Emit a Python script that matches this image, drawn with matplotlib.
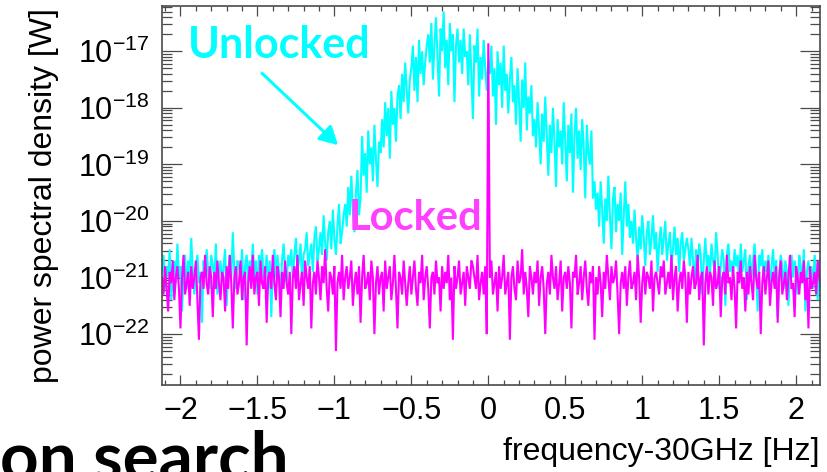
import numpy as np
import matplotlib
matplotlib.use("Agg")
import matplotlib.pyplot as plt
from matplotlib.ticker import LogLocator, FixedLocator, MultipleLocator, NullFormatter

plt.rcParams['font.family'] = ['Liberation Sans', 'DejaVu Sans']
plt.rcParams['mathtext.fontset'] = 'custom'
plt.rcParams['mathtext.rm'] = 'Liberation Sans'
plt.rcParams['mathtext.it'] = 'Liberation Sans:italic'
plt.rcParams['mathtext.bf'] = 'Liberation Sans:bold'

# frequency bins (Hz, offset from 30 GHz)
F_START = -2.12
F_STEP = 0.01

# log10 of power spectral density [W]
unlocked_log10 = [
    -20.9, -20.6, -21.2, -20.8, -21.0, -20.5, -21.4, -20.9, -20.7, -21.1,
    -20.4, -21.0, -20.8, -21.6, -20.9, -20.6, -21.2, -20.7, -21.0, -20.3,
    -20.9, -21.3, -20.8, -20.6, -21.1, -20.9, -21.8, -20.7, -21.0, -20.5,
    -20.9, -21.2, -20.6, -20.8, -21.0, -20.4, -21.3, -20.9, -20.7, -21.1,
    -20.8, -20.5, -21.5, -20.9, -20.6, -21.0, -20.2, -20.9, -21.2, -20.7,
    -20.8, -21.0, -20.5, -21.4, -20.8, -20.6, -21.1, -20.7, -20.9, -20.4,
    -21.0, -20.7, -21.3, -20.6, -20.8, -20.5, -21.0, -20.9, -20.6, -21.2,
    -20.7, -21.7, -20.8, -20.5, -21.0, -20.6, -20.9, -21.3, -20.7, -20.4,
    -20.9, -21.1, -20.6,
    -20.8, -20.5, -21.0, -20.6, -20.3, -20.9, -20.7, -20.4, -21.1, -20.6,
    -20.5, -20.2, -20.8, -20.6, -20.4, -20.9, -20.3, -20.1, -20.7, -20.5,
    -20.2, -20.6, -19.9, -20.4, -20.7, -20.2, -20.0, -20.5, -19.8, -20.3,
    -20.6, -20.1, -19.7, -20.4, -20.2, -19.9,
    -19.7, -20.1, -19.4, -19.9, -19.2, -19.8, -20.2, -19.5, -19.1, -19.9, -19.6,
    -18.5, -19.2, -18.8, -19.5, -18.4, -19.0, -18.7, -19.3, -18.3, -18.9, -19.4, -18.6, -18.8,
    -18.2, -18.7, -17.9, -18.5, -18.0, -18.9, -17.7, -18.3, -18.0, -18.6, -17.8,
    -17.6, -18.2, -17.4, -17.9, -17.2, -17.7, -18.1, -17.5,
    -17.3, -16.9, -17.7, -17.1, -17.9, -16.8, -17.4, -17.0, -17.6, -17.2, -16.9,
    -16.7, -17.2, -16.5, -17.5, -16.9, -16.4, -17.1, -17.8, -16.6, -17.0,
    -16.3, -17.3, -16.8, -17.6, -16.5, -17.0, -16.7, -17.9, -16.9, -16.6,
    -17.2, -16.8, -17.4, -16.6, -17.1,
    -17.0, -17.6, -16.7, -17.4, -18.2, -16.9, -17.2, -16.6, -17.8, -17.1, -17.5, -16.8, -17.3, -17.7,
    -17.2,
    -17.4, -16.9, -17.8, -17.3, -18.3, -17.0, -17.6, -17.2, -18.0, -16.9, -17.7, -17.4, -18.1, -17.5, -17.1, -17.9,
    -17.6, -18.3, -17.3, -17.9, -18.6, -17.5, -18.0, -17.2, -18.4, -17.8, -18.1, -17.6, -18.5,
    -18.2, -18.7, -17.9, -18.4, -19.0, -18.1, -18.6, -17.8, -18.5, -19.2,
    -18.3, -18.8, -18.0, -18.6, -19.4, -18.2, -18.7, -18.4, -19.0, -17.9,
    -18.6, -19.3, -18.3, -18.8, -18.1, -19.5, -18.5, -18.0, -18.9, -18.4,
    -19.1, -18.2, -18.7, -19.6, -18.3, -18.8,
    -19.0, -18.4, -19.6, -19.3, -19.8,
    -19.5, -20.1, -19.3, -19.8, -20.4, -19.6, -20.0, -19.2, -19.9, -20.5,
    -19.6, -19.4, -20.2, -19.7, -20.0, -19.5, -20.6, -19.9, -19.3, -20.1,
    -19.7, -20.3,
    -20.0, -20.4, -19.8, -20.3, -20.7, -20.1, -20.5, -19.9, -20.3, -20.8,
    -20.2, -20.0, -20.6, -20.3, -19.9, -20.5, -20.2, -20.9, -20.4, -20.1,
    -20.6, -20.3, -20.0, -20.7, -20.4, -20.2, -20.8, -20.5, -20.1, -20.6,
    -20.3, -20.9, -20.4, -20.2, -20.7, -20.5, -20.3,
    -20.5, -20.8, -20.3, -20.7, -21.1, -20.5, -20.9, -20.4, -20.6, -21.3,
    -20.7, -20.3, -20.8, -20.6, -21.0, -20.4, -20.7, -20.9, -20.2, -20.6,
    -21.2, -20.8, -20.5, -20.7, -21.5, -20.6, -20.4, -20.9, -20.7, -21.0,
    -20.5, -20.8, -20.6, -21.1, -20.4, -20.9, -20.7, -20.5, -21.4, -20.8,
    -20.6, -21.0, -20.7, -20.4, -20.9, -21.6, -20.6, -20.8, -20.5, -21.1,
    -20.7, -20.9, -20.6, -21.3, -20.8, -20.5, -21.0, -20.7, -21.7, -20.9,
    -20.6, -20.8, -21.2, -20.7, -20.9, -21.5, -20.8, -20.6, -21.0, -20.7,
    -20.9, -21.3, -20.6, -20.8, -21.1, -20.5, -21.6, -20.9, -20.7, -21.0,
    -20.8, -21.2, -20.6, -20.9, -21.4, -20.7, -21.0,
]

locked_log10 = [
    -21.0, -21.3, -20.8, -21.2, -21.6, -20.9, -21.1, -20.7, -21.4, -21.0,
    -20.8, -21.2, -21.9, -21.0, -20.6, -21.3, -21.1, -20.9, -21.5, -20.8,
    -21.2, -21.0, -20.7, -21.4, -22.1, -21.0, -20.9, -21.2, -20.6, -21.1,
    -21.3, -20.8, -21.0, -21.7, -20.9, -21.2, -20.7, -21.1, -21.4, -20.9,
    -21.0, -21.6, -20.8, -21.2, -20.6, -21.1, -21.9, -21.0, -20.8, -21.3,
    -21.1, -20.7, -21.4, -21.0, -20.9, -22.2, -21.1, -20.8, -21.2, -20.6,
    -21.3, -21.0, -20.9, -21.5, -20.7, -21.1, -21.2, -20.8, -21.8, -21.0,
    -20.9, -21.2, -20.6, -21.1, -21.4, -20.8, -21.0, -21.7, -20.9, -21.2,
    -20.7, -21.1, -21.3, -20.9, -22.0, -21.0, -20.8, -21.2, -20.6, -21.4,
    -21.1, -20.9, -21.5, -20.7, -21.0, -21.2, -20.8, -21.9, -21.1, -20.9,
    -21.3, -20.7, -21.0, -21.4, -20.8, -21.1, -20.5, -21.2, -21.6, -20.9,
    -21.0, -21.3, -20.8, -22.3, -21.1, -20.9, -21.2, -20.6, -21.4, -21.0,
    -20.8, -21.2, -21.0, -20.7, -21.5, -21.1, -20.9, -21.3, -20.8, -21.8,
    -21.0, -20.6, -21.2, -21.1, -20.9, -21.4, -20.7, -21.0, -22.0, -21.1,
    -20.8, -21.3, -21.0, -20.9, -21.6, -20.7, -21.2, -21.0, -20.8, -21.4,
    -21.1, -20.6, -21.2, -21.9, -20.9, -21.0, -21.3, -20.7, -21.1, -21.5,
    -21.1, -20.8, -21.3, -21.0, -20.7, -21.2, -21.5, -20.9, -21.1, -20.6,
    -21.4, -21.0, -20.8, -21.2, -21.9, -21.0, -20.9, -21.3, -20.7, -21.1,
    -21.0, -21.6, -20.8, -21.2, -20.9, -21.1, -20.6, -21.4, -21.0, -22.1,
    -20.8, -21.2, -21.0, -20.7, -21.3, -21.1, -20.9, -21.5, -20.8, -21.0,
    -21.2, -20.7,
    -20.8, -21.0, -21.2, -20.6, -21.4, -21.1, -20.9, -21.3, -20.8, -22.0,
    -16.86,
    -21.0, -20.7, -21.3, -21.1, -20.9, -21.6, -20.8, -21.2, -21.0,
    -20.6, -21.3, -21.1, -20.9, -22.1, -21.0, -20.8, -21.2, -21.4, -20.7,
    -21.1, -21.0, -20.5, -21.3, -20.9, -21.2, -21.7, -20.8, -21.0, -21.3,
    -20.9, -21.1, -20.7, -21.5, -21.0, -20.8, -21.2, -22.0, -21.1, -20.9,
    -21.3, -20.6, -21.0, -21.2, -20.8, -21.4, -21.1, -20.7, -21.6, -21.0,
    -20.9, -21.2, -20.8, -21.1, -21.9, -20.9, -21.0, -20.6, -21.3, -21.1,
    -20.8, -21.4, -21.0, -20.7, -21.2, -21.5, -20.9, -21.1, -20.8, -22.1,
    -21.0, -21.3, -20.8, -21.1, -21.7, -20.9, -21.2, -20.6, -21.0, -21.4,
    -20.8, -21.1, -21.0, -20.7, -21.3, -22.0, -21.1, -20.9, -21.2, -20.8,
    -21.5, -21.0, -20.7, -21.2, -21.1, -20.9, -21.4, -20.6, -21.0, -21.8,
    -21.1, -20.8, -21.3, -20.9, -21.0, -21.2, -20.7, -21.6, -21.0, -20.9,
    -21.1, -21.3, -20.8,
    -21.0, -20.7, -21.3, -21.1, -20.9, -21.2, -20.6, -21.4, -21.0, -20.8,
    -21.6, -21.1, -20.9, -21.2, -20.7, -21.0, -21.8, -20.9, -21.3, -21.0,
    -20.8, -21.2, -21.1, -20.6, -21.4, -21.0, -20.9, -22.2, -21.1, -20.8,
    -21.3, -20.9, -21.0, -21.5, -20.7, -21.2, -21.1, -20.8, -21.7, -21.0,
    -20.9, -21.3, -20.6, -21.1, -21.0, -21.4, -20.8, -21.2, -21.9, -20.9,
    -21.1, -20.7, -21.2, -21.0, -21.6, -20.9, -21.3, -20.8, -21.1, -21.4,
    -20.6, -21.0, -21.2, -20.9, -22.0, -21.1, -20.8, -21.3, -21.0, -20.7,
    -21.5, -21.1, -20.9, -21.2, -20.8, -21.8, -21.0, -20.7, -21.3, -21.1,
    -20.9, -21.4, -21.0, -20.6, -21.2, -21.1, -21.7, -20.8, -21.0, -21.3,
    -20.9, -21.1, -20.7, -21.4, -21.0, -21.9, -20.8, -21.2, -21.1, -20.9,
    -21.3, -20.7, -21.0, -21.2,
]

x_ticks = [-2, -1.5, -1, -0.5, 0, 0.5, 1, 1.5, 2]
x_tick_labels = ['\u22122', '\u22121.5', '\u22121', '\u22120.5', '0', '0.5', '1', '1.5', '2']

CYAN = '#00FFFF'
MAGENTA = '#FF00FF'
FRAME = '#4a4a4a'

f_unlocked = F_START + F_STEP * np.arange(len(unlocked_log10))
f_locked = F_START + F_STEP * np.arange(len(locked_log10))
p_unlocked = 10.0 ** np.array(unlocked_log10)
p_locked = 10.0 ** np.array(locked_log10)

fig = plt.figure(figsize=(8.28, 4.72), dpi=100)
ax = fig.add_axes([162 / 828, 1 - 385 / 472, 658 / 828, 379 / 472])

ax.plot(f_unlocked, p_unlocked, color=CYAN, lw=1.5, solid_joinstyle='miter')
ax.plot(f_locked, p_locked, color=MAGENTA, lw=1.5, solid_joinstyle='miter')

ax.set_yscale('log')
ax.set_xlim(-2.12, 2.155)
ax.set_ylim(10 ** -22.9, 10 ** -16.2)

ax.xaxis.set_major_locator(FixedLocator(x_ticks))
ax.set_xticklabels(x_tick_labels)
ax.xaxis.set_minor_locator(MultipleLocator(0.1))
ax.yaxis.set_major_locator(LogLocator(base=10, numticks=20))
ax.yaxis.set_minor_locator(LogLocator(base=10, subs=np.arange(2, 10), numticks=20))
ax.yaxis.set_minor_formatter(NullFormatter())

for s in ax.spines.values():
    s.set_color(FRAME)
    s.set_linewidth(1.2)

ax.tick_params(which='both', direction='in', top=True, right=True, color=FRAME,
               width=0.9, labelsize=22, labelcolor='black')
ax.xaxis.set_tick_params(which='major', length=7.5, pad=8)
ax.xaxis.set_tick_params(which='minor', length=3.8)
ax.yaxis.set_tick_params(which='major', length=14.5, pad=9)
ax.yaxis.set_tick_params(which='minor', length=7.2)

fig.text(44 / 828, 1 - 196 / 472, 'power spectral density [W]', rotation=90,
         ha='center', va='center', fontsize=23)
fig.text(820 / 828, 1 - 460 / 472, 'frequency-30GHz [Hz]', ha='right',
         va='baseline', fontsize=23)

ax.text(-1.955, 10 ** -17.12, 'Unlocked', color=CYAN, fontsize=31,
        family=['Lato', 'DejaVu Sans'], fontweight='bold', ha='left', va='baseline')
ax.text(-0.909, 10 ** -20.16, 'Locked', color='#FF40FF', fontsize=30,
        family=['Lato', 'DejaVu Sans'], fontweight='bold', ha='left', va='baseline')
ax.annotate('', xy=(-0.976, 10 ** -18.66), xytext=(-1.47, 10 ** -17.39),
            arrowprops=dict(arrowstyle='-|>,head_length=1.1,head_width=0.6',
                            color=CYAN, lw=2.2, mutation_scale=10,
                            shrinkA=0, shrinkB=0))

fig.text(0.0, 1 - 479 / 472, 'on search', color='black', fontsize=48.5,
         family=['Lato', 'DejaVu Sans'], fontweight='bold', ha='left', va='baseline')

fig.savefig('out.png', dpi=100)
